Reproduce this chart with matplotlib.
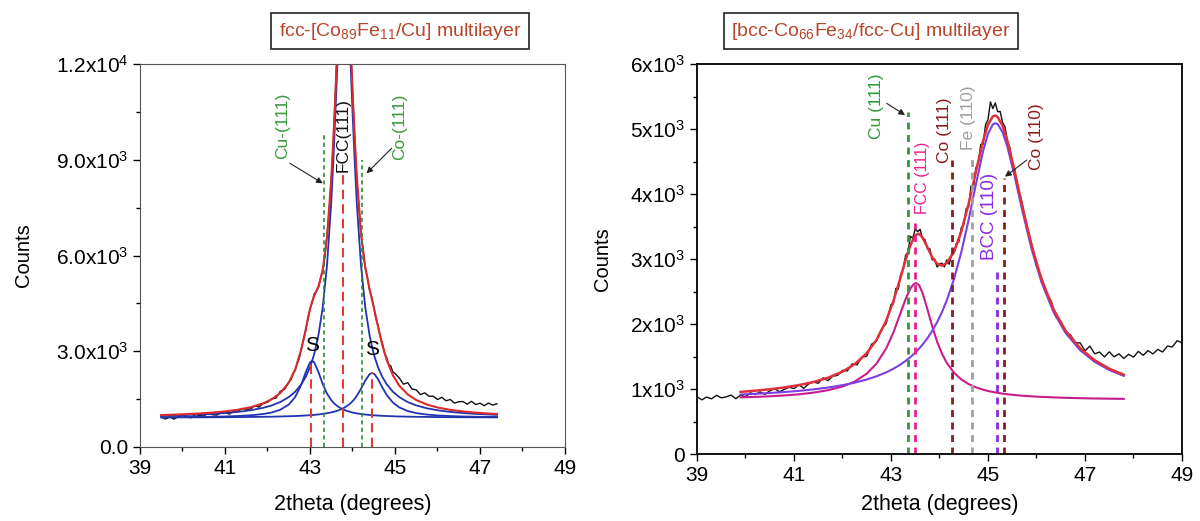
import matplotlib
matplotlib.use("Agg")  # headless
import matplotlib.pyplot as plt

# ---------------- left panel: fcc-[Co89Fe11/Cu] ----------------
# measured pattern (2theta, counts)
x_meas_L = [39.5, 39.6, 39.7, 39.8, 39.9, 40.0, 40.1, 40.2, 40.3, 40.4, 40.5, 40.6, 40.7, 40.8, 40.9,
            41.0, 41.1, 41.2, 41.3, 41.4, 41.5, 41.6, 41.7, 41.8, 41.9, 42.0, 42.1, 42.2, 42.3, 42.4,
            42.5, 42.55, 42.6, 42.65, 42.7, 42.75, 42.8, 42.85, 42.9, 42.95, 43.0, 43.05, 43.1, 43.15,
            43.2, 43.25, 43.3, 43.35, 43.4, 43.45, 43.5, 43.55, 43.6, 43.65, 43.7, 43.75, 43.8, 43.85,
            43.9, 43.95, 44.0, 44.05, 44.1, 44.15, 44.2, 44.25, 44.3, 44.35, 44.4, 44.45, 44.5, 44.55,
            44.6, 44.65, 44.7, 44.75, 44.8, 44.85, 44.9, 44.95, 45.0,
            45.1, 45.2, 45.3, 45.4, 45.5, 45.6, 45.7, 45.8, 45.9, 46.0, 46.1, 46.2, 46.3, 46.4, 46.5,
            46.6, 46.7, 46.8, 46.9, 47.0, 47.1, 47.2, 47.3, 47.4]
y_meas_L = [941, 878, 945, 873, 951, 999, 938, 917, 1017, 988, 969, 1071, 1014, 998, 1073, 1100, 1028, 1119,
            1111, 1207, 1185, 1188, 1295, 1249, 1369, 1400, 1513, 1532, 1744, 1807, 2034, 2099, 2304, 2403,
            2619, 2789, 3114, 3374, 3641, 4053, 4330, 4525, 4799, 4875, 4997, 5275, 5549, 5964, 6630, 7339,
            8393, 9580, 11168, 12783, 14307, 15522, 16023, 15498, 14400, 12803, 11176, 9765, 8435, 7546,
            6674, 6111, 5617, 5319, 4917, 4697, 4395, 4025, 3814, 3471, 3269, 2958, 2815, 2590, 2540, 2353,
            2304, 2162, 1968, 2016, 1818, 1788, 1642, 1697, 1591, 1591, 1486, 1556, 1450, 1487, 1376, 1418,
            1424, 1341, 1431, 1331, 1372, 1294, 1377, 1311, 1355]

# fitted curves
x_fit_L = [39.5, 39.8, 40.1, 40.4, 40.7, 41.0, 41.3, 41.6, 41.9, 42.1, 42.3, 42.5, 42.65, 42.8, 42.9,
           43.0, 43.05, 43.1, 43.2, 43.3, 43.4, 43.5, 43.55, 43.6, 43.65, 43.7, 43.75, 43.8, 43.85,
           43.9, 43.95, 44.0, 44.05, 44.1, 44.2, 44.3, 44.4, 44.46, 44.52, 44.6, 44.7, 44.8, 44.95,
           45.1, 45.3, 45.5, 45.75, 46.0, 46.3, 46.6, 46.9, 47.2, 47.4]
fit_fcc_L = [981, 991, 1003, 1018, 1037, 1064, 1100, 1151, 1228, 1303, 1408, 1563, 1731, 1974, 2200, 2502,
             2694, 2920, 3513, 4382, 5688, 7671, 8988, 10521, 12187, 13780, 14972, 15420, 14972, 13780,
             12187, 10521, 8988, 7671, 5688, 4382, 3513, 3132, 2825, 2502, 2200, 1974, 1731, 1563, 1408,
             1303, 1213, 1151, 1100, 1064, 1037, 1018, 1007]
fit_sat1_L = [933, 935, 938, 943, 949, 957, 971, 993, 1033, 1081, 1166, 1328, 1561, 1970, 2344, 2652, 2700,
              2652, 2344, 1970, 1674, 1468, 1391, 1328, 1276, 1233, 1196, 1166, 1139, 1117, 1098, 1081,
              1067, 1054, 1033, 1017, 1004, 997, 991, 984, 977, 971, 963, 957, 951, 946, 942, 938, 935,
              933, 931, 929, 928]
fit_sat2_L = [927, 928, 929, 930, 932, 934, 937, 941, 946, 950, 956, 963, 970, 980, 987, 996, 1001, 1007,
              1020, 1037, 1058, 1084, 1100, 1119, 1140, 1165, 1194, 1227, 1267, 1313, 1368, 1433, 1510,
              1600, 1822, 2078, 2280, 2320, 2280, 2127, 1872, 1640, 1393, 1242, 1127, 1062, 1016, 989,
              969, 956, 948, 942, 940]
fit_sum_L = [1001, 1014, 1030, 1051, 1078, 1115, 1167, 1245, 1367, 1495, 1690, 2014, 2423, 3084, 3691,
             4310, 4555, 4739, 5037, 5549, 6580, 8383, 9640, 11128, 12763, 14337, 15522, 15973, 15538,
             14370, 12813, 11196, 9725, 8485, 6704, 5637, 4957, 4609, 4256, 3774, 3209, 2745, 2248, 1922,
             1646, 1472, 1331, 1238, 1164, 1113, 1076, 1049, 1035]

# reference peak positions and the height the dashed markers reach
peaks_red_L = [43.03, 43.77, 44.46]
peaks_red_top_L = [2670, 8520, 2360]
peaks_green_L = [43.34, 44.22]
peaks_green_top_L = [9880, 8990]

# ---------------- right panel: [bcc-Co66Fe34/fcc-Cu] ----------------
x_meas_R = [39.0, 39.1, 39.2, 39.3, 39.4, 39.5, 39.6, 39.7, 39.8, 39.9, 40.0, 40.1, 40.2, 40.3, 40.4,
            40.5, 40.6, 40.7, 40.8, 40.9, 41.0, 41.1, 41.2, 41.3, 41.4, 41.5, 41.6, 41.7, 41.8, 41.9,
            42.0, 42.1, 42.2, 42.3, 42.4, 42.5, 42.6, 42.7, 42.8, 42.9,
            43.0, 43.05, 43.1, 43.15, 43.2, 43.25, 43.3, 43.35, 43.4, 43.45, 43.5, 43.55, 43.6, 43.65,
            43.7, 43.75, 43.8, 43.85, 43.9, 43.95, 44.0, 44.05, 44.1, 44.15, 44.2, 44.25, 44.3, 44.35,
            44.4, 44.45, 44.5, 44.55, 44.6, 44.65, 44.7, 44.75, 44.8, 44.85, 44.9, 44.95, 45.0, 45.05,
            45.1, 45.15, 45.2, 45.25, 45.3, 45.35, 45.4, 45.45, 45.5, 45.55, 45.6,
            45.7, 45.8, 45.9, 46.0, 46.1, 46.2, 46.3, 46.4, 46.5, 46.6, 46.7, 46.8, 46.9, 47.0, 47.1,
            47.2, 47.3, 47.4, 47.5, 47.6, 47.7, 47.8, 47.9, 48.0, 48.1, 48.2, 48.3, 48.4, 48.5, 48.6,
            48.7, 48.8, 48.9, 49.0]
y_meas_R = [881, 833, 876, 849, 902, 865, 878, 907, 851, 906, 881, 942, 914, 956, 918, 971, 1006, 957, 994,
            1026, 1005, 1065, 1011, 1078, 1107, 1088, 1172, 1128, 1197, 1210, 1287, 1278, 1386, 1372, 1488,
            1505, 1688, 1739, 1913, 2006, 2300, 2310, 2548, 2533, 2763, 2834, 3053, 3108, 3349, 3320, 3467,
            3419, 3458, 3311, 3301, 3160, 3159, 2987, 2998, 2877, 2923, 2936, 2878, 2986, 2920, 3070, 3094,
            3244, 3267, 3484, 3523, 3775, 3797, 4127, 4093, 4403, 4471, 4763, 4763, 5070, 5143, 5417, 5315,
            5402, 5265, 5272, 5101, 5032, 4821, 4712, 4495, 4378, 4138, 3876, 3478, 3226, 2886, 2727, 2469,
            2358, 2111, 2035, 1867, 1834, 1711, 1709, 1587, 1661, 1542, 1569, 1493, 1572, 1495, 1541, 1470,
            1534, 1491, 1579, 1519, 1591, 1539, 1609, 1569, 1661, 1647, 1743, 1711]

x_fit_R = [39.9, 40.2, 40.5, 40.8, 41.1, 41.4, 41.7, 42.0, 42.25, 42.5, 42.7, 42.9, 43.05, 43.2, 43.3,
           43.4, 43.47, 43.52, 43.58, 43.65, 43.75, 43.85, 43.95, 44.05, 44.15, 44.3, 44.45, 44.6,
           44.75, 44.9, 45.0, 45.1, 45.15, 45.2, 45.3, 45.4, 45.55, 45.7, 45.9, 46.1, 46.35, 46.6,
           46.9, 47.2, 47.5, 47.8]
fit_fcc_R = [871, 878, 888, 901, 918, 944, 981, 1038, 1114, 1235, 1389, 1623, 1870, 2175, 2382, 2548, 2615,
             2630, 2596, 2479, 2230, 1963, 1730, 1545, 1402, 1250, 1147, 1076, 1026, 989, 970, 954, 947,
             941, 929, 919, 907, 897, 887, 879, 871, 864, 859, 854, 851, 848]
fit_bcc_R = [915, 926, 938, 953, 971, 994, 1022, 1059, 1097, 1146, 1195, 1256, 1312, 1379, 1431, 1491, 1538,
             1574, 1622, 1682, 1780, 1894, 2027, 2182, 2364, 2695, 3107, 3600, 4147, 4664, 4926, 5071,
             5090, 5074, 4952, 4728, 4271, 3768, 3150, 2649, 2186, 1862, 1597, 1418, 1292, 1202]
fit_sum_R = [956, 974, 996, 1024, 1060, 1107, 1173, 1267, 1381, 1551, 1754, 2049, 2352, 2724, 2983, 3209,
             3323, 3374, 3387, 3331, 3180, 3027, 2927, 2896, 2936, 3114, 3424, 3847, 4343, 4823, 5066,
             5195, 5207, 5185, 5051, 4817, 4348, 3836, 3206, 2697, 2227, 1897, 1626, 1442, 1313, 1220]

peak_names_R = ["Cu (111)", "FCC (111)", "Co (111)", "Fe (110)", "BCC (110)", "Co (110)"]
peak_pos_R = [43.36, 43.49, 44.25, 44.68, 45.18, 45.34]
peak_top_R = [5266, 3549, 4523, 4574, 2882, 4241]
peak_colors_R = ["#2E9A3A", "#E8208F", "#8B1C1C", "#A0A0A0", "#8A2BE2", "#8B1C1C"]

plt.rcParams['font.family'] = 'Liberation Sans'
plt.rcParams['mathtext.fontset'] = 'custom'
plt.rcParams['mathtext.rm'] = 'Liberation Sans'
plt.rcParams['mathtext.default'] = 'regular'

fig = plt.figure(figsize=(12, 5.21), dpi=100)
axL = fig.add_axes([140 / 1200, 1 - 447 / 521, 425 / 1200, 383 / 521])
axR = fig.add_axes([697 / 1200, 1 - 454 / 521, 485 / 1200, 390 / 521])

# left panel curves
axL.plot(x_meas_L, y_meas_L, color='#111111', lw=1)
for comp in (fit_fcc_L, fit_sat1_L, fit_sat2_L):
    axL.plot(x_fit_L, comp, color='#2233B0', lw=1.3)
axL.plot(x_fit_L, fit_sum_L, color='#D92B2B', lw=1.5)
axL.vlines(peaks_red_L, 0, peaks_red_top_L, colors='#E03C31', lw=1.5, linestyles=(0, (4.5, 2.5)))
axL.vlines(peaks_green_L, 0, peaks_green_top_L, colors='#2E8B3A', lw=1.2, linestyles=(0, (2.5, 2)))

axL.text(42.36, 10060, "Cu-(111)", color='#3A9A3A', fontsize=12.5, rotation=90, ha='center', va='center')
axL.text(45.12, 10030, "Co-(111)", color='#3A9A3A', fontsize=12.5, rotation=90, ha='center', va='center')
axL.text(43.77, 9770, "FCC(111)", color='#111111', fontsize=12.5, rotation=90, ha='center', va='center')
axL.text(43.04, 3195, "S", fontsize=15, ha='center', va='center')
axL.text(44.45, 3040, "S", fontsize=15, ha='center', va='center')
arrow = dict(arrowstyle='-|>', color='#222222', lw=0.8, mutation_scale=9, shrinkA=0, shrinkB=0)
axL.annotate("", xy=(43.30, 8261), xytext=(42.53, 8888), arrowprops=arrow)
axL.annotate("", xy=(44.33, 8575), xytext=(44.92, 9358), arrowprops=arrow)

# right panel curves
axR.plot(x_meas_R, y_meas_R, color='#111111', lw=1)
axR.plot(x_fit_R, fit_fcc_R, color='#C81D8C', lw=1.5)
axR.plot(x_fit_R, fit_bcc_R, color='#7B3FE4', lw=1.5)
axR.plot(x_fit_R, fit_sum_R, color='#E0303A', lw=1.8)
axR.vlines(peak_pos_R, 0, peak_top_R, colors=peak_colors_R, lw=2, linestyles=(0, (2.5, 2)))

label_xy_R = [(42.70, 5343), (43.65, 4244), (44.11, 4985), (44.59, 5177), (45.04, 3651), (46.0, 4882)]
label_size_R = [12.5, 11.5, 12.5, 12.5, 13.5, 12.5]
for name, (lx, ly), col, fs in zip(peak_names_R, label_xy_R, peak_colors_R, label_size_R):
    axR.text(lx, ly, name, color=col, fontsize=fs, rotation=90, ha='center', va='center')
axR.annotate("", xy=(43.29, 5215), xytext=(42.91, 5395), arrowprops=arrow)
axR.annotate("", xy=(45.35, 4266), xytext=(45.80, 4523), arrowprops=arrow)

for ax in (axL, axR):
    ax.set_xlim(39, 49)
    ax.set_xticks(range(39, 50, 2))
    ax.set_xticks(range(40, 49, 2), minor=True)
    ax.tick_params(direction='out', length=5, width=1, labelsize=15)
    ax.tick_params(which='minor', direction='out', length=3, width=1)
    ax.set_xlabel('2theta (degrees)', fontsize=15.5)
    ax.set_ylabel('Counts', fontsize=14.5)

for sp in axL.spines.values():
    sp.set_color('#555555')
for sp in axR.spines.values():
    sp.set_linewidth(1.3)

axL.set_ylim(0, 12000)
axL.set_yticks([0, 3000, 6000, 9000, 12000])
axL.set_yticklabels(['0.0', '3.0x10$^3$', '6.0x10$^3$', '9.0x10$^3$', '1.2x10$^4$'])
axL.set_yticks([1500, 4500, 7500, 10500], minor=True)
axL.yaxis.set_label_coords(-0.252, 0.5)
axL.xaxis.set_label_coords(0.5, -0.123)

axR.set_ylim(0, 6000)
axR.set_yticks(range(0, 6001, 1000))
axR.set_yticklabels(['0'] + ['%dx10$^3$' % i for i in range(1, 7)])
axR.set_yticks(range(500, 6000, 1000), minor=True)
axR.yaxis.set_label_coords(-0.175, 0.5)
axR.xaxis.set_label_coords(0.5, -0.103)

# boxed titles
box = dict(boxstyle='square,pad=0.4', fc='white', ec='#222222', lw=1.2)
fig.text(400 / 1200, 1 - 31 / 521, "fcc-[Co$_{89}$Fe$_{11}$/Cu] multilayer", color='#B8452A',
         fontsize=14, ha='center', va='center', bbox=box)
fig.text(871 / 1200, 1 - 31 / 521, "[bcc-Co$_{66}$Fe$_{34}$/fcc-Cu] multilayer", color='#B8452A',
         fontsize=14, ha='center', va='center', bbox=box)

fig.savefig('out.png')
